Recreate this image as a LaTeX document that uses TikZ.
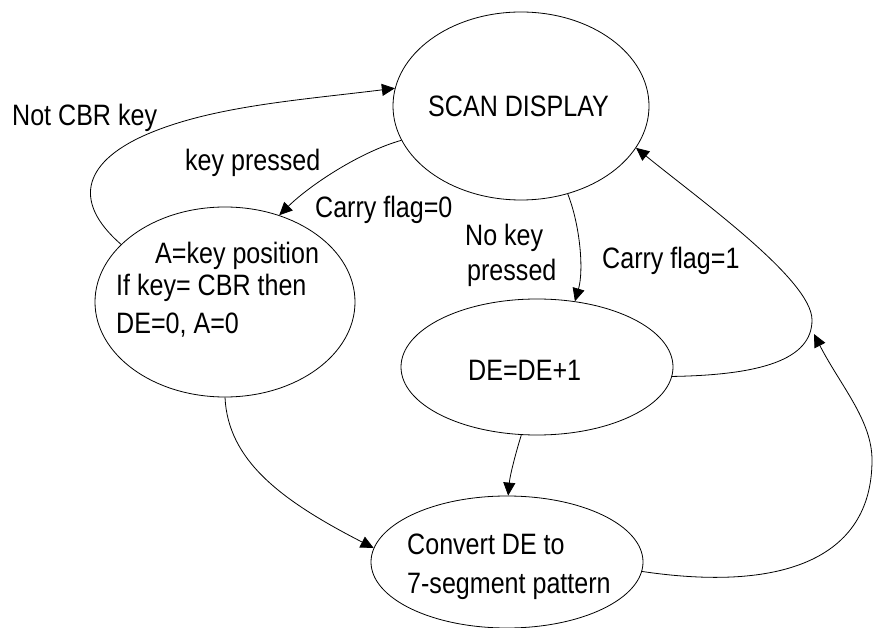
\documentclass[tikz,border=0pt]{standalone}
\usepackage{fontspec}
\setmainfont[FakeStretch=0.85]{Liberation Sans}
\usetikzlibrary{shapes.geometric,arrows.meta}
\begin{document}
\begin{tikzpicture}[x=1pt,y=-1pt,
  state/.style={ellipse,draw,line width=0.8pt,inner sep=0pt},
  txt/.style={anchor=base west,inner sep=0pt,font=\fontsize{29.5}{36}\selectfont},
  flow/.style={draw,line width=0.8pt,-{Triangle[length=13pt,width=12pt]}}]
\useasboundingbox (0,0) rectangle (873,628);

% states
\node[state,minimum width=256pt,minimum height=188pt] (scan) at (521,106) {};
\node[state,minimum width=260pt,minimum height=190pt] (keyA) at (225,302) {};
\node[state,minimum width=272pt,minimum height=136pt] (inc) at (537,367) {};
\node[state,minimum width=272pt,minimum height=132pt] (conv) at (507,562) {};

% state texts
\node[txt] (scanT) at (428,117) {SCAN DISPLAY};
\node[txt] (keyT1) at (155,264) {A=key position};
\node[txt] (keyT2) at (116,296) {If key= CBR then};
\node[txt] (keyT3) at (116,334) {DE=0, A=0};
\node[txt] (incT) at (468,381) {DE=DE+1};
\node[txt] (convT1) at (407,554) {Convert DE to};
\node[txt] (convT2) at (407,593) {7-segment pattern};

% transition labels
\node[txt] (lNotCBR) at (12,126) {Not CBR key};
\node[txt] (lKey) at (185,171) {key pressed};
\node[txt] (lCf0) at (315,218) {Carry flag=0};
\node[txt] (lNoKey1) at (465,246) {No key};
\node[txt] (lNoKey2) at (467,281) {pressed};
\node[txt] (lCf1) at (602,269) {Carry flag=1};

% transitions
\draw[flow] (keyA.151) .. controls (70,200) and (85,160) .. (150,133)
            .. controls (215,106) and (300,100) .. (scan.172);
\draw[flow] (scan.196) .. controls (360,152) and (310,185) .. (keyA.58);
\draw[flow] (scan.298) .. controls (580,225) and (584,270) .. (inc.60);
\draw[flow] (inc.356) .. controls (760,375) and (812,360) .. (812,320)
            .. controls (812,280) and (700,200) .. (scan.340);
\coordinate (merge) at (814,334);
\draw[flow] (conv.356) .. controls (780,592) and (872,560) .. (872,460)
            .. controls (872,420) and (840,385) .. (merge);
\draw[flow] (keyA.270) .. controls (228,460) and (280,500) .. (conv.174);
\draw[flow] (inc.257) .. controls (516,452) and (510,475) .. (conv.89);
\end{tikzpicture}
\end{document}
